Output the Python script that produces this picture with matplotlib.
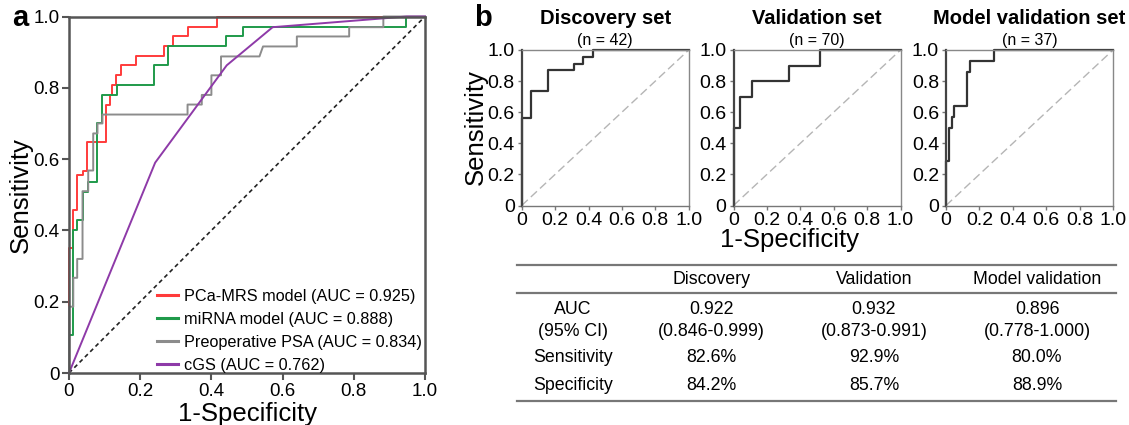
import numpy as np
import matplotlib
matplotlib.use('Agg')
import matplotlib.pyplot as plt

plt.rcParams['font.family'] = ['Liberation Sans', 'DejaVu Sans']

# ---- panel a: ROC curves (corner points) ----
mrs_fpr = [0, 0, 0.011, 0.011, 0.022, 0.022, 0.038, 0.038, 0.05, 0.05, 0.104, 0.104,
           0.115, 0.115, 0.12, 0.12, 0.132, 0.132, 0.146, 0.146, 0.188, 0.188,
           0.267, 0.267, 0.293, 0.293, 0.333, 0.333, 0.415, 0.415, 1.0]
mrs_tpr = [0, 0.35, 0.35, 0.456, 0.456, 0.555, 0.555, 0.566, 0.566, 0.648, 0.648, 0.753,
           0.753, 0.78, 0.78, 0.808, 0.808, 0.835, 0.835, 0.863, 0.863, 0.888,
           0.888, 0.916, 0.916, 0.944, 0.944, 0.97, 0.97, 1.0, 1.0]

mirna_fpr = [0, 0, 0.012, 0.012, 0.023, 0.023, 0.038, 0.038, 0.054, 0.054, 0.078, 0.078,
             0.092, 0.092, 0.134, 0.134, 0.24, 0.24, 0.279, 0.279, 0.44, 0.44,
             0.49, 0.49, 0.948, 0.948, 1.0]
mirna_tpr = [0, 0.106, 0.106, 0.40, 0.40, 0.43, 0.43, 0.508, 0.508, 0.536, 0.536, 0.70,
             0.70, 0.78, 0.78, 0.807, 0.807, 0.863, 0.863, 0.916, 0.916, 0.944,
             0.944, 0.97, 0.97, 1.0, 1.0]

psa_fpr = [0, 0, 0.012, 0.012, 0.023, 0.023, 0.038, 0.038, 0.054, 0.054, 0.068, 0.068,
           0.08, 0.08, 0.094, 0.094, 0.333, 0.333, 0.373, 0.373, 0.40, 0.40,
           0.427, 0.427, 0.535, 0.545, 0.64, 0.64, 0.787, 0.787, 0.883, 0.883, 1.0]
psa_tpr = [0, 0.186, 0.186, 0.267, 0.267, 0.32, 0.32, 0.51, 0.51, 0.568, 0.568, 0.672,
           0.672, 0.70, 0.70, 0.725, 0.725, 0.753, 0.753, 0.78, 0.78, 0.835,
           0.835, 0.888, 0.888, 0.916, 0.916, 0.944, 0.944, 0.97, 0.97, 1.0, 1.0]

cgs_fpr = [0, 0.242, 0.443, 0.572, 0.948, 1.0]
cgs_tpr = [0, 0.59, 0.863, 0.97, 1.0, 1.0]

model_names = ['PCa-MRS model', 'miRNA model', 'Preoperative PSA', 'cGS']
model_auc = [0.925, 0.888, 0.834, 0.762]
model_colors = ['#ff3b3b', '#1f9a4a', '#8c8c8c', '#8e3aa8']

# ---- panel b: ROC per cohort ----
set_titles = ['Discovery set', 'Validation set', 'Model validation set']
set_n = [42, 70, 37]
disc_fpr = [0, 0, 0.053, 0.053, 0.158, 0.158, 0.316, 0.316, 0.368, 0.368, 0.424, 0.424, 1.0]
disc_tpr = [0, 0.565, 0.565, 0.739, 0.739, 0.870, 0.870, 0.913, 0.913, 0.957, 0.957, 1.0, 1.0]
val_fpr = [0, 0, 0.04, 0.04, 0.113, 0.113, 0.333, 0.333, 0.519, 0.519, 1.0]
val_tpr = [0, 0.5, 0.5, 0.7, 0.7, 0.8, 0.8, 0.9, 0.9, 1.0, 1.0]
mval_fpr = [0, 0, 0.02, 0.02, 0.034, 0.034, 0.05, 0.05, 0.127, 0.127, 0.141, 0.141, 0.288, 0.288, 1.0]
mval_tpr = [0, 0.286, 0.286, 0.5, 0.5, 0.571, 0.571, 0.643, 0.643, 0.857, 0.857, 0.929, 0.929, 1.0, 1.0]

# ---- table ----
table_cols = ['Discovery', 'Validation', 'Model validation']
auc_vals = ['0.922', '0.932', '0.896']
auc_ci = ['(0.846-0.999)', '(0.873-0.991)', '(0.778-1.000)']
sens_vals = ['82.6%', '92.9%', '80.0%']
spec_vals = ['84.2%', '85.7%', '88.9%']

tick_vals = [0, 0.2, 0.4, 0.6, 0.8, 1.0]
tick_labels = ['0', '0.2', '0.4', '0.6', '0.8', '1.0']

W, H = 1129, 425
fig = plt.figure(figsize=(W / 100, H / 100), dpi=100)


def frac(x0, y0, x1, y1):
    # pixel box -> figure fraction
    return [x0 / W, 1 - y1 / H, (x1 - x0) / W, (y1 - y0) / H]


# panel a
ax = fig.add_axes(frac(69, 16.5, 425, 373))
ax.plot([0, 1], [0, 1], color='#222222', ls=(0, (2.5, 2)), lw=1.2)
curves = [(mrs_fpr, mrs_tpr), (mirna_fpr, mirna_tpr), (psa_fpr, psa_tpr), (cgs_fpr, cgs_tpr)]
for (fx, ty), name, auc, col in zip(curves, model_names, model_auc, model_colors):
    ax.plot(fx, ty, color=col, lw=1.4, clip_on=False,
            label='%s (AUC = %.3f)' % (name, auc))
ax.set_xlim(0, 1)
ax.set_ylim(0, 1)
ax.set_xticks(tick_vals)
ax.set_xticklabels(tick_labels)
ax.set_yticks(tick_vals)
ax.set_yticklabels(tick_labels)
for s in ax.spines.values():
    s.set_color('#555555')
    s.set_linewidth(1.8)
ax.tick_params(direction='out', length=5, width=1.5, color='#555555', labelsize=13.5, pad=2)
ax.set_xlabel('1-Specificity', fontsize=18.5, labelpad=2)
ax.set_ylabel('Sensitivity', fontsize=18.5, labelpad=0)
leg = ax.legend(loc='lower left', bbox_to_anchor=(0.247, 0.0), frameon=False, fontsize=11.7,
                handlelength=1.3, handletextpad=0.35, labelspacing=0.5, borderpad=0,
                borderaxespad=0)
for line in leg.get_lines():
    line.set_linewidth(2.2)

fig.text(20 / W, 1 - 18 / H, 'a', fontsize=21, fontweight='bold', ha='center', va='center')
fig.text(483 / W, 1 - 18 / H, 'b', fontsize=21, fontweight='bold', ha='center', va='center')

# panel b small plots
small = [(disc_fpr, disc_tpr), (val_fpr, val_tpr), (mval_fpr, mval_tpr)]
lefts = [521.7, 733.5, 946]
for (fx, ty), title, n, x0 in zip(small, set_titles, set_n, lefts):
    bx = fig.add_axes(frac(x0, 50, x0 + 167, 205.5))
    bx.plot([0, 1], [0, 1], color='#b5b5b5', ls=(0, (6, 3)), lw=1.0)
    bx.plot(fx, ty, color='#333333', lw=1.6, clip_on=False)
    bx.set_xlim(0, 1)
    bx.set_ylim(0, 1)
    bx.set_xticks(tick_vals)
    bx.set_xticklabels(tick_labels)
    bx.set_yticks(tick_vals)
    bx.set_yticklabels(tick_labels)
    for s in bx.spines.values():
        s.set_color('#888888')
        s.set_linewidth(1.0)
    bx.spines['left'].set_color('#444444')
    bx.spines['left'].set_linewidth(1.6)
    bx.spines['bottom'].set_color('#777777')
    bx.tick_params(direction='out', length=3, width=1, color='#777777', labelsize=14, pad=2)
    cx = (x0 + 83.5) / W
    fig.text(cx, 1 - 18 / H, title, fontsize=14.5, fontweight='bold', ha='center', va='center')
    fig.text(cx, 1 - 40 / H, '(n = %d)' % n, fontsize=11.5, ha='center', va='center')

fig.text(476 / W, 1 - 127 / H, 'Sensitivity', fontsize=18.5, rotation=90, ha='center', va='center')
fig.text(790 / W, 1 - 240 / H, '1-Specificity', fontsize=18.5, ha='center', va='center')

# table drawn in pixel coordinates
tx = fig.add_axes([0, 0, 1, 1])
tx.set_xlim(0, W)
tx.set_ylim(H, 0)
tx.axis('off')
tx.patch.set_alpha(0)
for yl in [265, 293, 401]:
    tx.plot([517, 1116], [yl, yl], color='#777777', lw=1.6)
col_x = [711, 874, 1037]
label_x = 573
fs = 12.8
for cxp, name, a, ci, se, sp in zip(col_x, table_cols, auc_vals, auc_ci, sens_vals, spec_vals):
    tx.text(cxp, 280, name, fontsize=fs, ha='center', va='center')
    tx.text(cxp, 310, a, fontsize=fs, ha='center', va='center')
    tx.text(cxp, 332, ci, fontsize=fs, ha='center', va='center')
    tx.text(cxp, 358, se, fontsize=fs, ha='center', va='center')
    tx.text(cxp, 386, sp, fontsize=fs, ha='center', va='center')
tx.text(label_x, 310, 'AUC', fontsize=fs, ha='center', va='center')
tx.text(label_x, 332, '(95% CI)', fontsize=fs, ha='center', va='center')
tx.text(label_x, 358, 'Sensitivity', fontsize=fs, ha='center', va='center')
tx.text(label_x, 386, 'Specificity', fontsize=fs, ha='center', va='center')

fig.savefig('out.png', dpi=100)
